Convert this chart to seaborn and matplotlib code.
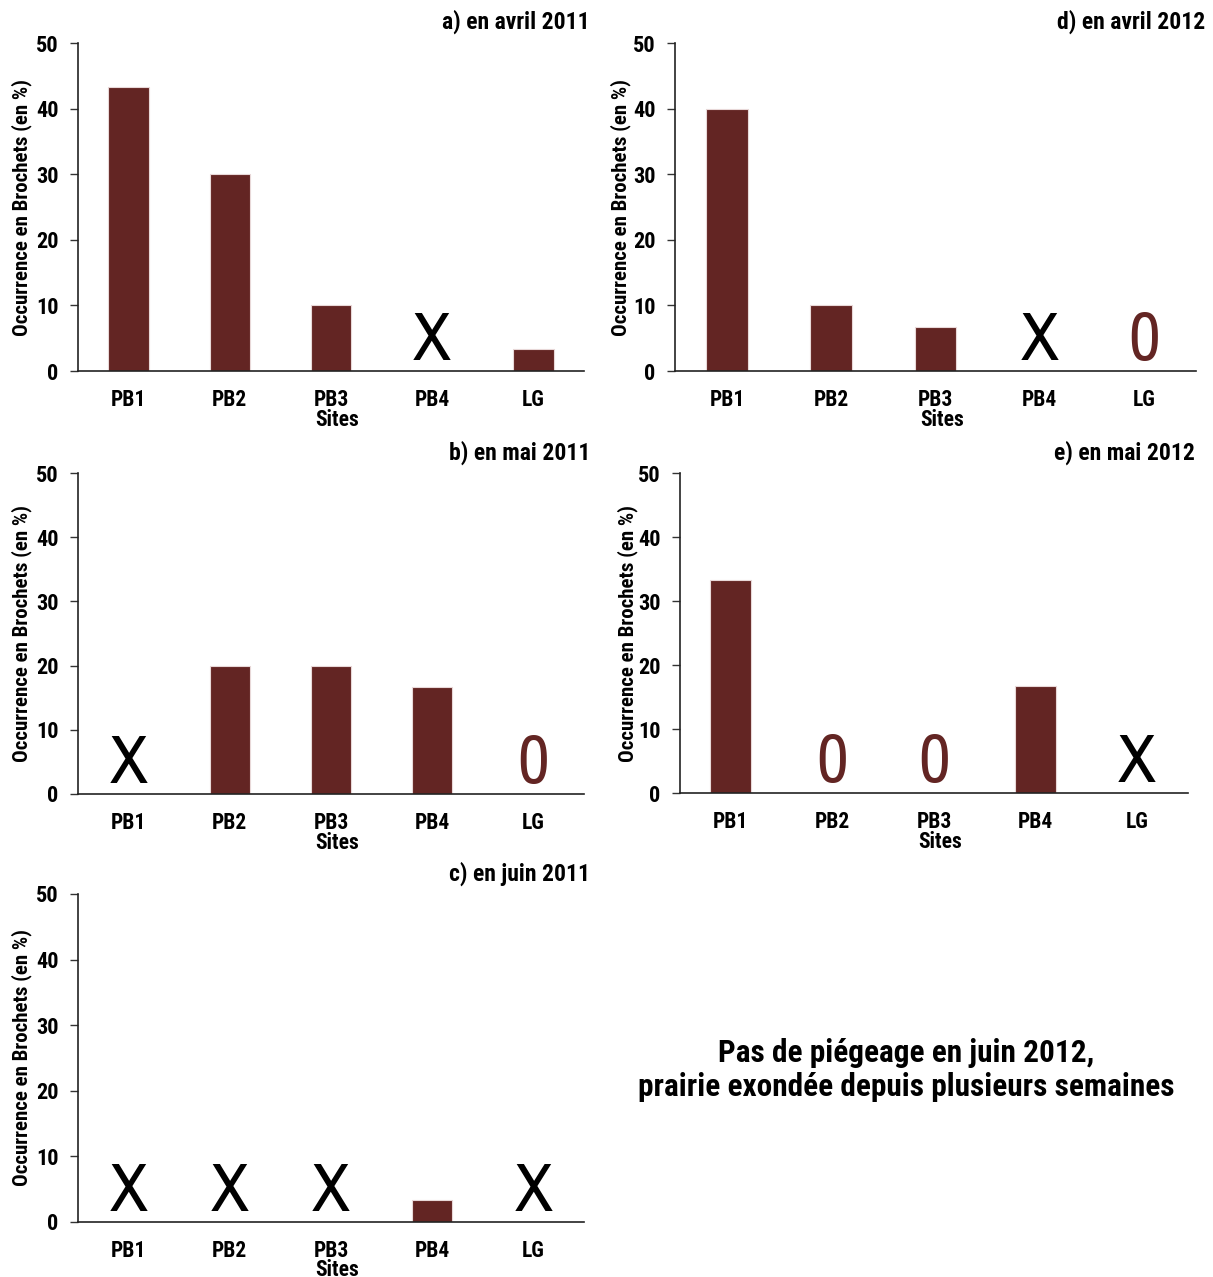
import numpy as np
import pandas as pd
import matplotlib
matplotlib.use("Agg")
import matplotlib.pyplot as plt
import seaborn as sns
from matplotlib import font_manager

sites = ["PB1", "PB2", "PB3", "PB4", "LG"]
# np.nan = no trapping ("X"), 0 = trapping without pike ("0")
avril_2011 = [43.3, 30.0, 10.0, np.nan, 3.3]
mai_2011 = [np.nan, 20.0, 20.0, 16.7, 0.0]
juin_2011 = [np.nan, np.nan, np.nan, 3.3, np.nan]
avril_2012 = [40.0, 10.0, 6.7, np.nan, 0.0]
mai_2012 = [33.3, 0.0, 0.0, 16.7, np.nan]
titles = ["a) en avril 2011", "b) en mai 2011", "c) en juin 2011",
          "d) en avril 2012", "e) en mai 2012"]
yticks = [0, 10, 20, 30, 40, 50]
ylabel = "Occurrence en Brochets (en %)"
xlabel = "Sites"
note = "Pas de piégeage en juin 2012,\nprairie exondée depuis plusieurs semaines"

sns.set_theme(style="white")
names = {f.name for f in font_manager.fontManager.ttflist}
fam = [f for f in ["Arial Narrow", "Liberation Sans Narrow", "Roboto Condensed",
                   "PT Sans Narrow", "Liberation Sans", "DejaVu Sans"] if f in names]
mark_fam = [f for f in ["Arial Narrow", "Liberation Sans Narrow", "Archivo Narrow",
                        "Liberation Sans", "DejaVu Sans"] if f in names]
plt.rcParams["font.family"] = fam
for k in ["text.color", "axes.labelcolor", "xtick.color", "ytick.color"]:
    plt.rcParams[k] = "black"

W, H = 1213, 1277
fig = plt.figure(figsize=(W / 100, H / 100), dpi=100)
bar_color = "#632523"

# (values, title, left, right, top, bottom, title_right, title_y, ylabel_dx, sites_dy)
panels = [
    (avril_2011, titles[0], 78, 584, 43, 371, 590, 22, 56, 49),
    (mai_2011, titles[1], 78, 584, 473, 794, 590, 453, 56, 49),
    (juin_2011, titles[2], 78, 584, 894, 1222, 590, 874, 56, 47.5),
    (avril_2012, titles[3], 675, 1196, 43, 371, 1205, 22, 54, 49),
    (mai_2012, titles[4], 680, 1188, 473, 793, 1195, 453, 52, 49),
]

for vals, title, l, r, t, b, tr, ty, ydx, sdy in panels:
    ax = fig.add_axes([l / W, 1 - b / H, (r - l) / W, (b - t) / H])
    df = pd.DataFrame({"site": sites, "val": vals})
    sns.barplot(data=df, x="site", y="val", ax=ax, color=bar_color,
                width=0.4, edgecolor="#e8d8d8", linewidth=0.8, saturation=1)
    for i, v in enumerate(vals):
        if np.isnan(v):
            ax.annotate("X", (i, 0), xytext=(0, 8), textcoords="offset points",
                        ha="center", va="baseline", fontsize=50, color="black",
                        fontweight="normal", family=mark_fam)
        elif v == 0:
            ax.annotate("0", (i, 0), xytext=(0, 8), textcoords="offset points",
                        ha="center", va="baseline", fontsize=50, color=bar_color,
                        fontweight="normal", family=mark_fam)
    ax.set_xlim(-0.5, 4.5)
    ax.set_ylim(0, 50)
    ax.set_yticks(yticks)
    ax.set_yticklabels([str(y) for y in yticks], fontsize=16, fontweight="bold")
    ax.set_xticks(np.arange(-0.5, 5, 1.0))
    ax.set_xticklabels([])
    ax.set_xticks(np.arange(5), minor=True)
    ax.set_xticklabels(sites, minor=True, fontsize=15.5, fontweight="bold")
    ax.tick_params(axis="x", which="major", direction="out", length=6, width=1, color="#333333")
    ax.tick_params(axis="x", which="minor", length=0, pad=13)
    ax.tick_params(axis="y", direction="out", length=6, width=1, color="#333333", pad=8, left=True)
    for s in ["top", "right"]:
        ax.spines[s].set_visible(False)
    for s in ["left", "bottom"]:
        ax.spines[s].set_color("#222222")
        ax.spines[s].set_linewidth(1.2)
    ax.set_xlabel(xlabel, fontsize=15.5, fontweight="bold")
    ax.xaxis.set_label_coords((337 - 78) / 506, -sdy / (b - t))
    ax.xaxis.label.set_va("center")
    ax.set_ylabel(ylabel, fontsize=15, fontweight="bold")
    ax.yaxis.set_label_coords(-ydx / (r - l), 0.5)
    ax.yaxis.label.set_va("center")
    fig.text(tr / W, 1 - ty / H, title, ha="right", va="center",
             fontsize=17, fontweight="bold")

fig.text(906 / W, 1 - 1070 / H, note, ha="center", va="center",
         fontsize=22.5, fontweight="bold", linespacing=1.2)

fig.savefig("out.png", dpi=100)
